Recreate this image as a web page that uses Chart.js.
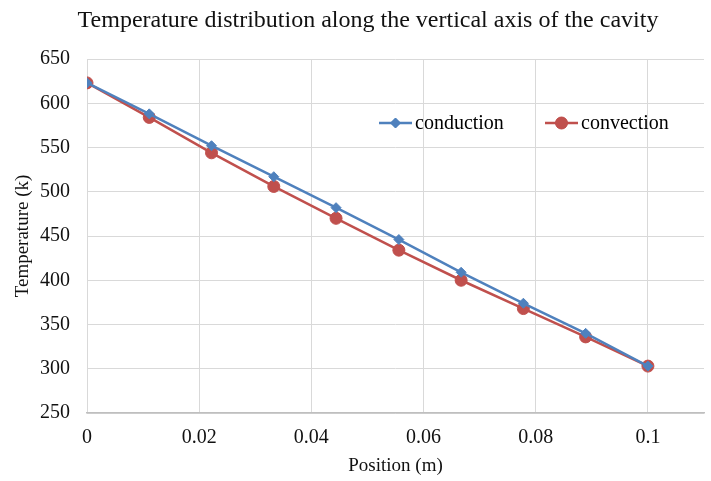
<!DOCTYPE html>
<html>
<head>
<meta charset="utf-8">
<script src="https://cdn.jsdelivr.net/npm/chart.js@4"></script>
<style>
  html, body { margin: 0; padding: 0; background: #fff; }
  #wrap { width: 711px; height: 481px; }
</style>
</head>
<body>
<div id="wrap"><canvas id="chart" width="711" height="481"></canvas></div>
<script>
// positions along the axis (m)
const positions = [0, 0.0111, 0.0222, 0.0333, 0.0444, 0.0556, 0.0667, 0.0778, 0.0889, 0.1];
const conduction = [623, 588, 552, 517, 482, 446, 409, 374, 340, 303];
const convection = [623, 584, 544, 506, 470, 434, 400, 368, 336, 303];
const seriesNames = ["conduction", "convection"];
const xTicks = [0, 0.02, 0.04, 0.06, 0.08, 0.1];
const chartTitle = "Temperature distribution along the vertical axis of the cavity";

const serif = "'Liberation Serif', 'Times New Roman', serif";
const blue = "#4f81bd";
const red = "#c0504d";

const toPoints = vals => vals.map((v, i) => ({ x: positions[i], y: v }));

// title and legend drawn by hand so they sit where the original has them
const decorations = {
    id: "decorations",
    afterDraw(chart) {
        const c = chart.ctx;
        c.save();
        c.fillStyle = "#111";
        c.font = "24px " + serif;
        c.textAlign = "center";
        c.textBaseline = "middle";
        c.fillText(chartTitle, 368, 21);

        const y = 123;
        const items = [
            { x: 379, color: blue, style: "rectRot", r: 5 },
            { x: 545, color: red, style: "circle", r: 6 }
        ];
        c.font = "20px " + serif;
        c.textAlign = "left";
        items.forEach((it, i) => {
            c.strokeStyle = it.color;
            c.lineWidth = 2.5;
            c.beginPath();
            c.moveTo(it.x, y);
            c.lineTo(it.x + 33, y);
            c.stroke();
            c.fillStyle = it.color;
            c.lineWidth = 1;
            Chart.helpers.drawPoint(c, { pointStyle: it.style, radius: it.r, borderWidth: 1 }, it.x + 16.5, y);
            c.fill();
            c.fillStyle = "#000";
            c.fillText(seriesNames[i], it.x + 36, y + 1);
        });
        c.restore();
    }
};

new Chart(document.getElementById("chart").getContext("2d"), {
    type: "line",
    data: {
        datasets: [
            {
                label: seriesNames[0],
                data: toPoints(conduction),
                borderColor: blue,
                backgroundColor: blue,
                borderWidth: 2.5,
                pointStyle: "rectRot",
                pointRadius: 5,
                pointBorderWidth: 1,
                tension: 0
            },
            {
                label: seriesNames[1],
                data: toPoints(convection),
                borderColor: red,
                backgroundColor: red,
                borderWidth: 2.5,
                pointStyle: "circle",
                pointRadius: 6,
                pointBorderWidth: 1,
                tension: 0
            }
        ]
    },
    options: {
        responsive: false,
        animation: false,
        layout: { padding: { top: 59, left: 0, right: 4, bottom: 4 } },
        plugins: {
            legend: { display: false },
            tooltip: { enabled: false },
            title: { display: false }
        },
        scales: {
            x: {
                type: "linear",
                min: 0,
                max: 0.11,
                afterBuildTicks: axis => {
                    axis.ticks = xTicks.map(v => ({ value: v }));
                },
                afterFit: scale => { scale.height = 64; },
                ticks: {
                    padding: 13,
                    color: "#111",
                    font: { family: serif, size: 20 },
                    callback: v => (Math.round(v * 100) / 100).toString()
                },
                grid: { color: "#d9d9d9", drawTicks: false },
                border: { color: "#bfbfbf", width: 1.5 },
                title: {
                    display: true,
                    text: "Position (m)",
                    color: "#111",
                    font: { family: serif, size: 19 },
                    padding: { top: 4, bottom: 0 }
                }
            },
            y: {
                min: 250,
                max: 650,
                afterFit: scale => { scale.width = 87; },
                ticks: {
                    stepSize: 50,
                    padding: 17,
                    color: "#111",
                    font: { family: serif, size: 20 }
                },
                grid: { color: "#d9d9d9", drawTicks: false },
                border: { display: false },
                title: {
                    display: true,
                    text: "Temperature (k)",
                    color: "#111",
                    font: { family: serif, size: 19 },
                    padding: { top: 12, bottom: 0 }
                }
            }
        }
    },
    plugins: [decorations]
});
</script>
</body>
</html>
